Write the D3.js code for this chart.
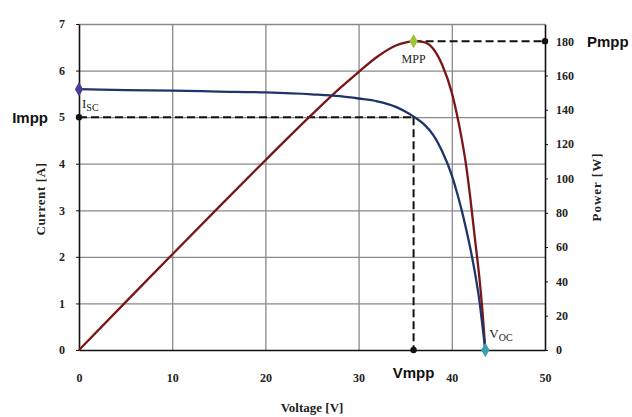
<!DOCTYPE html>
<html>
<head>
<meta charset="utf-8">
<script src="https://d3js.org/d3.v7.min.js"></script>
<style>
    body { margin: 0; background: #fff; }
    .tick text { font-family: "Liberation Serif", serif; font-weight: bold; font-size: 12px; fill: #222; }
    .axis path, .axis line { stroke: #111; }
    .grid line { stroke: #8a8a8a; stroke-width: 1.3; }
    .grid path { display: none; }
    .title { font-family: "Liberation Serif", serif; font-weight: bold; font-size: 13px; fill: #222; }
    .big { font-family: "Liberation Sans", Arial, sans-serif; font-weight: bold; font-size: 15px; fill: #111; }
    .note { font-family: "Liberation Serif", serif; font-size: 12px; fill: #222; }
</style>
</head>
<body>
<div id="chart"></div>
<script>
// values
var voltage = [0, 5, 10, 15, 20, 25, 28, 30, 32, 34, 35, 36, 37, 38, 39, 40, 40.5, 41, 41.5, 42, 42.5, 43, 43.3, 43.6];
var current = [5.60, 5.58, 5.57, 5.55, 5.53, 5.49, 5.45, 5.40, 5.34, 5.22, 5.12, 5.00, 4.85, 4.62, 4.25, 3.75, 3.42, 3.05, 2.63, 2.17, 1.64, 1.0, 0.5, 0];
var power = [0, 27.9, 55.7, 83.3, 110.6, 137.3, 152.6, 162, 170.9, 177.5, 179.2, 180, 179.4, 175.6, 165.8, 150, 138.5, 125, 109, 88, 64, 40, 22, 0];
var xTicks = [0, 10, 20, 30, 40, 50];
var yTicks = [0, 1, 2, 3, 4, 5, 6, 7];
var pTicks = [0, 20, 40, 60, 80, 100, 120, 140, 160, 180];
var isc = 5.6, voc = 43.6, vmpp = 35.9, impp = 5.0, pmpp = 180;

var W = 632, H = 417;
var margin = {left: 79, top: 24, right: 87, bottom: 67};
var width = W - margin.left - margin.right;
var height = H - margin.top - margin.bottom;

var svg = d3.select("#chart").append("svg")
    .attr("width", W)
    .attr("height", H);

var g = svg.append("g")
    .attr("transform", "translate(" + margin.left + "," + margin.top + ")");

var x = d3.scaleLinear().domain([0, 50]).range([0, width]);
var y = d3.scaleLinear().domain([0, 7]).range([height, 0]);
var yP = d3.scaleLinear().domain([0, 190]).range([height, 0]);

// grid
g.append("g").attr("class", "grid")
    .call(d3.axisBottom(x).tickValues(xTicks.slice(1, -1)).tickSize(height).tickFormat(""));
g.append("g").attr("class", "grid")
    .call(d3.axisRight(y).tickValues(yTicks.slice(1)).tickSize(width).tickFormat(""));

// axes
g.append("g").attr("class", "axis")
    .attr("transform", "translate(0," + height + ")")
    .call(d3.axisBottom(x).tickValues(xTicks).tickSize(0).tickPadding(23))
    .select(".domain").attr("stroke-width", 1.6);
g.append("g").attr("class", "axis")
    .call(d3.axisLeft(y).tickValues(yTicks).tickFormat(d3.format("d")).tickSize(3).tickSizeOuter(0).tickPadding(11))
    .select(".domain").attr("stroke-width", 1.6);
g.append("g").attr("class", "axis")
    .attr("transform", "translate(" + width + ",0)")
    .call(d3.axisRight(yP).tickValues(pTicks).tickSize(3).tickSizeOuter(0).tickPadding(8))
    .select(".domain").attr("stroke-width", 1.6);

// axis titles
g.append("text").attr("class", "title")
    .attr("transform", "translate(-34," + (height / 2 + 12) + ") rotate(-90)")
    .attr("text-anchor", "middle")
    .attr("letter-spacing", "0.6px")
    .text("Current [A]");
g.append("text").attr("class", "title")
    .attr("transform", "translate(" + (width + 56) + "," + (height / 2) + ") rotate(-90)")
    .attr("text-anchor", "middle")
    .attr("letter-spacing", "1px")
    .text("Power [W]");
g.append("text").attr("class", "title")
    .attr("x", width / 2).attr("y", height + 62)
    .attr("text-anchor", "middle")
    .text("Voltage [V]");

// dashed guides
var dash = "8,4";
g.append("line")
    .attr("x1", x(0)).attr("x2", x(vmpp)).attr("y1", y(impp)).attr("y2", y(impp))
    .attr("stroke", "#111").attr("stroke-width", 2).attr("stroke-dasharray", dash);
g.append("line")
    .attr("x1", x(vmpp)).attr("x2", x(vmpp)).attr("y1", y(impp)).attr("y2", y(0))
    .attr("stroke", "#111").attr("stroke-width", 2).attr("stroke-dasharray", dash);
g.append("line")
    .attr("x1", x(vmpp)).attr("x2", x(50)).attr("y1", yP(pmpp)).attr("y2", yP(pmpp))
    .attr("stroke", "#111").attr("stroke-width", 2).attr("stroke-dasharray", dash);

// curves
var ivLine = d3.line()
    .x(function(d, i) { return x(voltage[i]); })
    .y(function(d) { return y(d); })
    .curve(d3.curveMonotoneX);
var pvLine = d3.line()
    .x(function(d, i) { return x(voltage[i]); })
    .y(function(d) { return yP(d); })
    .curve(d3.curveMonotoneX);

g.append("path").datum(power)
    .attr("d", pvLine)
    .attr("fill", "none").attr("stroke", "#7a1618").attr("stroke-width", 2.3);
g.append("path").datum(current)
    .attr("d", ivLine)
    .attr("fill", "none").attr("stroke", "#1f3468").attr("stroke-width", 2.3);

// points
var diamond = d3.symbol().type(d3.symbolDiamond).size(60);
g.append("path").attr("d", diamond)
    .attr("transform", "translate(" + x(0) + "," + y(isc) + ")").attr("fill", "#4a3f95");
g.append("path").attr("d", diamond)
    .attr("transform", "translate(" + x(vmpp) + "," + yP(pmpp) + ")").attr("fill", "#9cc53a");
g.append("path").attr("d", diamond)
    .attr("transform", "translate(" + x(voc) + "," + y(0) + ")").attr("fill", "#3a9fb0");

[[x(0), y(impp)], [x(50), yP(pmpp)], [x(vmpp), y(0)]].forEach(function(p) {
    g.append("circle").attr("cx", p[0]).attr("cy", p[1]).attr("r", 3.2).attr("fill", "#111");
});

// point labels
var t = g.append("text").attr("class", "note").attr("x", x(0) + 3).attr("y", y(isc) + 19);
t.append("tspan").attr("font-size", "13px").text("I");
t.append("tspan").attr("dy", 3).attr("font-size", "10px").text("SC");

g.append("text").attr("class", "note")
    .attr("x", x(vmpp)).attr("y", yP(pmpp) + 22)
    .attr("text-anchor", "middle").attr("font-size", "11px")
    .text("MPP");

var v = g.append("text").attr("class", "note").attr("x", x(voc) + 4).attr("y", y(0) - 12);
v.append("tspan").attr("font-size", "13px").text("V");
v.append("tspan").attr("dy", 3).attr("font-size", "10px").text("OC");

// big labels
g.append("text").attr("class", "big")
    .attr("x", -31).attr("y", y(impp) + 6)
    .attr("text-anchor", "end")
    .text("Impp");
g.append("text").attr("class", "big")
    .attr("x", width + 42).attr("y", yP(pmpp) + 6)
    .text("Pmpp");
g.append("text").attr("class", "big")
    .attr("x", x(vmpp)).attr("y", height + 28)
    .attr("text-anchor", "middle")
    .attr("font-size", "16px")
    .text("Vmpp");
</script>
</body>
</html>
